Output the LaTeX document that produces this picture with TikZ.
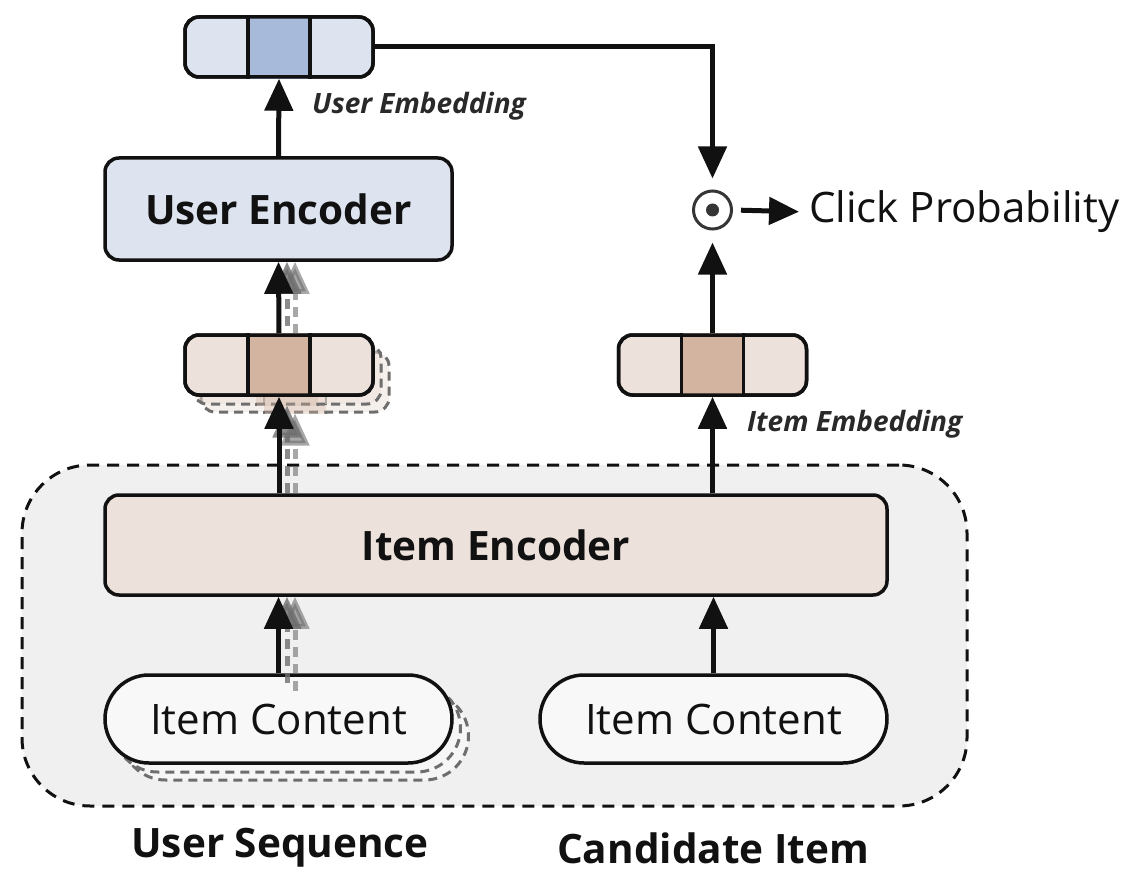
\documentclass[tikz,border=0pt]{standalone}
\usepackage{fontspec}
\setmainfont{Open Sans}
\usetikzlibrary{arrows.meta,calc}
\definecolor{blueL}{HTML}{DDE3EF}
\definecolor{blueM}{HTML}{A7BAD9}
\definecolor{tanL}{HTML}{EDE1DB}
\definecolor{tanM}{HTML}{D3B4A0}
\definecolor{bgG}{HTML}{F0F0F0}
\definecolor{pillC}{HTML}{F8F8F8}
\definecolor{ink}{HTML}{111111}
\definecolor{shd}{HTML}{6E6E6E}
\tikzset{
  box/.style={draw=ink, line width=3.5pt, rounded corners=14pt, inner sep=0pt},
  vecbox/.style={box, minimum width=188pt, minimum height=60pt},
  shbox/.style={draw=shd, line width=3pt, dash pattern=on 9pt off 6pt, rounded corners=14pt, inner sep=0pt},
  pillbox/.style={draw=ink, line width=3.5pt, rounded corners=44pt, minimum width=347pt, minimum height=88pt, inner sep=0pt, fill=pillC},
  arr/.style={-{Triangle[length=32pt,width=28pt]}, line width=5pt, draw=ink},
  sarr/.style={-{Triangle[length=32pt,width=28pt]}, line width=5pt, draw=shd, dash pattern=on 10pt off 7pt},
  txtbig/.style={font=\fontsize{42}{46}\selectfont, text=ink, inner sep=0pt},
  txtbold/.style={font=\fontsize{40.5}{44}\selectfont\bfseries, text=ink, inner sep=0pt},
  txtlab/.style={font=\fontsize{28}{31}\selectfont\bfseries\itshape, text=ink!90, inner sep=0pt},
}
\newcommand\embvec[4]{%
  \node[vecbox, fill=#3] (#1) at (#2) {};
  \fill[#4] ($(#1.north)+(-31,0)$) rectangle ($(#1.south)+(31,0)$);
  \draw[ink, line width=3.5pt] ($(#1.north)+(-31,0)$) -- ($(#1.south)+(-31,0)$)
       ($(#1.north)+(31,0)$) -- ($(#1.south)+(31,0)$);
  \node[vecbox] at (#2) {};
}
\newcommand\embshadow[2]{%
  \node[shbox, minimum width=188pt, minimum height=60pt, fill=tanL, fill opacity=0.5] (#1) at (#2) {};
  \fill[tanM, opacity=0.35] ($(#1.north)+(-31,0)$) rectangle ($(#1.south)+(31,0)$);
  \draw[shd, line width=2.5pt, dash pattern=on 9pt off 6pt] ($(#1.north)+(-31,0)$) -- ($(#1.south)+(-31,0)$)
       ($(#1.north)+(31,0)$) -- ($(#1.south)+(31,0)$);
}
\begin{document}
\begin{tikzpicture}[x=1pt,y=-1pt]
\useasboundingbox (0,0) rectangle (1128,872);
% container
\node[draw=ink, line width=3pt, dash pattern=on 12pt off 8pt, fill=bgG, rounded corners=68pt,
      minimum width=945pt, minimum height=341pt, inner sep=0pt] (cont) at (494.5,635.5) {};
% shadows of item contents
\node[pillbox, draw=shd, line width=3pt, dash pattern=on 9pt off 6pt, fill=bgG!60!white] (icS2) at (295,736) {};
\node[pillbox, draw=shd, line width=3pt, dash pattern=on 9pt off 6pt, fill=bgG!60!white] (icS1) at (287,728) {};
% shadows of left item embedding
\embshadow{ieS2}{295,382}
\embshadow{ieS1}{287,374}
% boxes
\node[box, fill=blueL, minimum width=347pt, minimum height=102pt] (uenc) at (278.5,209) {};
\node[txtbold] at (uenc) {User Encoder};
\node[box, fill=tanL, minimum width=782pt, minimum height=100pt] (ienc) at (496,545) {};
\node[txtbold] at (ienc) {Item Encoder};
\node[pillbox] (ic1) at (278.5,719) {};
\node[txtbig] at (ic1) {Item Content};
\node[pillbox] (ic2) at (713.5,719) {};
\node[txtbig] at (ic2) {Item Content};
% shadow arrows
\draw[sarr, opacity=0.6] (icS2.north) -- (icS2.north |- ienc.south);
\draw[sarr, opacity=0.8] (icS1.north) -- (icS1.north |- ienc.south);
\draw[sarr, opacity=0.6] (ienc.north -| ieS2.south) -- (ieS2.south);
\draw[sarr, opacity=0.8] (ienc.north -| ieS1.south) -- (ieS1.south);
\draw[sarr, opacity=0.6] (ieS2.north) -- (ieS2.north |- uenc.south);
\draw[sarr, opacity=0.8] (ieS1.north) -- (ieS1.north |- uenc.south);
% embeddings
\embvec{ue}{279,47}{blueL}{blueM}
\embvec{ie1}{279,365}{tanL}{tanM}
\embvec{ie2}{712.5,365}{tanL}{tanM}
% dot product
\node[circle, draw=ink!85, line width=3pt, minimum size=38pt, inner sep=0pt] (dot) at (712.5,210) {};
\fill[ink!85] (dot.center) circle (6.5pt);
\node[txtbig, anchor=west] (cp) at (809,212) {Click Probability};
% main arrows
\draw[arr] (ic1.north) -- (ic1.north |- ienc.south);
\draw[arr] (ic2.north) -- (ic2.north |- ienc.south);
\draw[arr] (ie1.north |- ienc.north) -- (ie1.south);
\draw[arr] (ie2.north |- ienc.north) -- (ie2.south);
\draw[arr] (ie1.north) -- (uenc.south);
\draw[arr] (uenc.north) -- (ue.south);
\draw[arr, shorten >=11pt] (ue.east) -| (dot.north);
\draw[arr, shorten >=12pt] (ie2.north) -- (dot.south);
\draw[-{Triangle[length=30pt,width=27pt]}, line width=5pt, draw=ink, shorten <=8pt, shorten >=10pt] (dot.east) -- (cp.west);
% labels
\node[txtlab, anchor=west] (uel) at (312,106) {User Embedding};
\node[txtlab, anchor=west] (iel) at (747,424) {Item Embedding};
\node[txtbold] (us) at (280,848) {User Sequence};
\node[txtbold] (ci) at (713,848) {Candidate Item};
\end{tikzpicture}
\end{document}
